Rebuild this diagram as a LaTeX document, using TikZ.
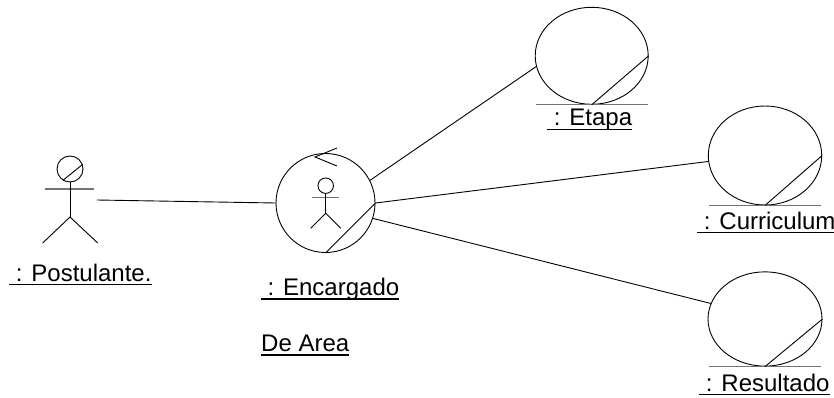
\documentclass[tikz,border=0pt]{standalone}
\usepackage{fontspec}
\setmainfont{Liberation Sans}
\usetikzlibrary{shapes.geometric}

% underlined label: rule a few points below the baseline
\newcommand{\ulbox}[1]{\setbox0\hbox{#1}\rlap{\rule[-4.2pt]{\wd0}{1.5pt}}\box0}

\tikzset{
  obj/.style={draw, line width=0.9pt, inner sep=0pt},
  entity/.style={obj, ellipse},
  link/.style={line width=0.9pt},
  bar/.style={line width=1.4pt, draw=black!55},
  figline/.style={line width=0.9pt},
  label/.style={anchor=base west, inner sep=0pt, font=\fontsize{24pt}{28pt}\selectfont},
}

\begin{document}
\begin{tikzpicture}[x=1pt,y=-1pt]
\useasboundingbox (0,0) rectangle (834,398);

% --- actor : Postulante.
\node[obj, circle, minimum size=26pt] (phead) at (70,169) {};
\draw[figline] (phead.238) -- (phead.20);
\draw[bar] (45,189) -- (94,189);
\draw[figline] (phead.south) -- (70,217) coordinate (phip);
\draw[figline] (42.7,243) -- (phip) -- (97.7,243);
\coordinate (phand) at (97,200);

% --- control object : Encargado De Area
\node[obj, circle, minimum size=99pt] (enc) at (325.5,203) {};
\draw[figline] (enc.south) -- (enc.east);
\coordinate (arrtip) at (315,157);
\draw[figline] (337,148) -- (arrtip) -- (337,166);
% small stick figure inside
\node[obj, circle, minimum size=15.5pt] (ehead) at (325.7,185.7) {};
\draw[bar, line width=1.2pt] (311.7,197.7) -- (339,197.7);
\draw[figline] (ehead.south) -- (325.7,213.3) coordinate (ehip);
\draw[figline] (310.7,228.3) -- (ehip) -- (340.7,228.3);

% --- entity objects
\node[entity, minimum width=113pt, minimum height=97pt] (etapa) at (591.7,55.8) {};
\node[entity, minimum width=113.4pt, minimum height=99pt] (curr) at (765,155.5) {};
\node[entity, minimum width=114pt, minimum height=94.3pt] (res) at (765,319) {};
\foreach \e in {etapa,curr,res}{
  \draw[bar] ([xshift=-56pt]\e.south) -- ([xshift=56pt]\e.south);
  \draw[figline] (\e.south) -- (\e.east);
}

% --- links
\draw[link] (phand) -- (enc.180);
\draw[link] (enc.27.5) -- (etapa.191);
\draw[link] (enc.0) -- (curr.186);
\draw[link] (enc.-18.5) -- (res.164.5);

% --- labels
\node[label] (lpost) at (9,281) {\ulbox{\ : Postulante.}};
\node[label] (lenc) at (260.7,295.5) {\ulbox{\ : Encargado}};
\node[label] (larea) at (261,351.5) {\ulbox{De Area}};
\node[label] (letapa) at (547,126) {\ulbox{\ : Etapa}};
\node[label] (lcurr) at (697,229) {\ulbox{\ : Curriculum}};
\node[label] (lres) at (699,391) {\ulbox{\ : Resultado}};
\end{tikzpicture}
\end{document}
